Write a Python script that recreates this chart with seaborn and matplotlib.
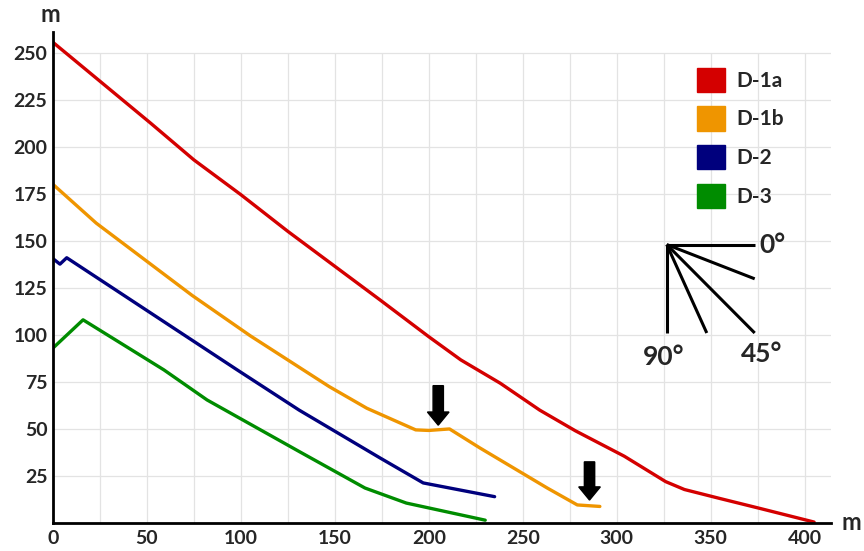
import pandas as pd
import seaborn as sns
import matplotlib.pyplot as plt
from matplotlib.patches import Patch

# profile data (m along slope, m height)
names = ["D-1a", "D-1b", "D-2", "D-3"]
colors = ["#d40000", "#ef9500", "#00007d", "#008c00"]

d1a_x = [0, 52, 75, 100, 125, 174, 200, 217, 238, 259, 278, 304, 326, 336, 355, 376, 405]
d1a_y = [255.5, 212.5, 193, 174.5, 155, 118.6, 99, 86.7, 74.3, 60, 49, 35.5, 22, 17.8, 13, 7.8, 0.5]

d1b_x = [0, 23, 74, 105, 147, 167, 193, 200, 211, 227, 263, 279, 291]
d1b_y = [180, 159.4, 121, 99.5, 72.5, 61, 49.5, 49.2, 50, 40, 18.6, 9.6, 8.8]

d2_x = [0, 3.7, 7.3, 98, 131, 174, 197, 235]
d2_y = [140.5, 137.6, 141, 81.4, 60, 34.6, 21.3, 14]

d3_x = [0, 16, 59, 82, 131, 166, 188, 230]
d3_y = [93, 108, 81.4, 65.4, 38, 18.6, 10.6, 1.5]

# arrows marking the flat spots: x, top, tip
arrow_x = [205, 285.5]
arrow_top = [73, 32.5]
arrow_tip = [52, 12.2]

# angle fan (0, ~22, 45, ~68, 90 degrees)
fan_origin = (326.6, 148)
fan_end_x = [373.4, 373.4, 373.4, 347.9, 326.6]
fan_end_y = [148, 129.8, 101, 101, 101]

xs = [d1a_x, d1b_x, d2_x, d3_x]
ys = [d1a_y, d1b_y, d2_y, d3_y]
df = pd.concat([pd.DataFrame({"x": x, "y": y, "profile": n}) for x, y, n in zip(xs, ys, names)])

sns.set_theme(style="white")
plt.rcParams["font.family"] = ["Lato", "DejaVu Sans"]
plt.rcParams["font.weight"] = "bold"

fig = plt.figure(figsize=(8.64, 5.51), dpi=100)
ax = fig.add_axes([53 / 864, 28 / 551, 778 / 864, 491 / 551])

sns.lineplot(data=df, x="x", y="y", hue="profile", palette=dict(zip(names, colors)),
             sort=False, estimator=None, lw=2.4, legend=False, ax=ax)

ax.set_xlim(0, 414)
ax.set_ylim(0, 261)
ax.set_xticks(range(0, 401, 50))
ax.set_yticks(range(25, 251, 25))

# light grid, stopping at the 250 m line
ax.vlines(range(25, 401, 25), 0, 250, color="#e3e3e3", lw=0.9, zorder=0)
ax.hlines(range(25, 251, 25), 0, 414, color="#e3e3e3", lw=0.9, zorder=0)

ax.tick_params(axis="both", which="both", length=0, labelsize=14, pad=5)
ax.tick_params(axis="y", pad=4)
for lab in ax.get_xticklabels() + ax.get_yticklabels():
    lab.set_fontweight("bold")
ax.set_xlabel("")
ax.set_ylabel("")
sns.despine(ax=ax)
for s in ["left", "bottom"]:
    ax.spines[s].set_color("black")
    ax.spines[s].set_linewidth(2)

for x, top, tip in zip(arrow_x, arrow_top, arrow_tip):
    ax.arrow(x, top, 0, tip - top, width=5.5, head_width=11.5, head_length=7,
             length_includes_head=True, color="black", zorder=5)

for ex, ey in zip(fan_end_x, fan_end_y):
    ax.plot([fan_origin[0], ex], [fan_origin[1], ey], color="black", lw=2.2,
            solid_capstyle="butt")
ax.text(376, 148, "0°", fontsize=19, fontweight="bold", va="center", ha="left")
ax.text(377, 90, "45°", fontsize=19, fontweight="bold", va="center", ha="center")
ax.text(325, 88, "90°", fontsize=19, fontweight="bold", va="center", ha="center")

handles = [Patch(facecolor=c, edgecolor=c, label=n) for n, c in zip(names, colors)]
ax.legend(handles=handles, loc="upper left", bbox_to_anchor=(0.828, 0.927),
          frameon=False, handlelength=1.35, handleheight=1.4,
          handletextpad=0.55, labelspacing=0.7, borderpad=0, borderaxespad=0,
          prop={"weight": "bold", "size": 15})

fig.text(50 / 864, 1 - 15 / 551, "m", fontsize=17, fontweight="bold", ha="center", va="center")
fig.text(851 / 864, 1 - 522 / 551, "m", fontsize=17, fontweight="bold", ha="center", va="center")

fig.savefig("out.png", dpi=100)
